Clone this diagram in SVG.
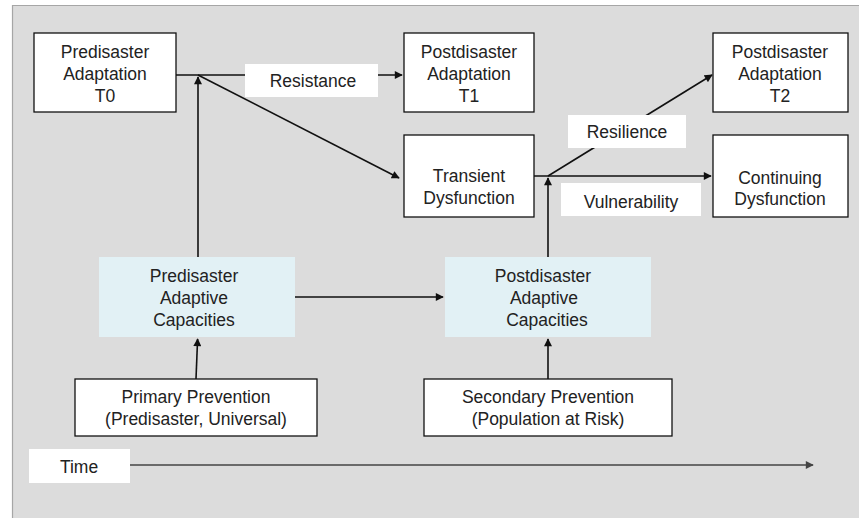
<svg xmlns="http://www.w3.org/2000/svg" width="859" height="518" viewBox="0 0 859 518">
<style>
text{font-family:"Liberation Sans",Arial,Helvetica,sans-serif;font-size:17.5px;fill:#222;text-anchor:middle}
.box{fill:#fff;stroke:#111;stroke-width:1.3}
.cap{fill:#e2f1f5;stroke:none}
.lbl{fill:#fff;stroke:none}
.ln{fill:none;stroke:#111;stroke-width:1.6}
.time{fill:none;stroke:#444;stroke-width:1.6}
</style>
<defs>
<marker id="ah" viewBox="0 0 10 10" refX="9" refY="5" markerWidth="9" markerHeight="8" markerUnits="userSpaceOnUse" orient="auto">
<path d="M0,0 L10,5 L0,10 z" fill="#111"/>
</marker>
<marker id="ahg" viewBox="0 0 10 10" refX="9" refY="5" markerWidth="9" markerHeight="8" markerUnits="userSpaceOnUse" orient="auto">
<path d="M0,0 L10,5 L0,10 z" fill="#444"/>
</marker>
</defs>
<rect x="0" y="0" width="859" height="518" fill="#fff"/>
<rect x="12" y="5" width="847" height="513" fill="#dcdcdc"/>
<path d="M12.5,518 V5.5 H859" fill="none" stroke="#a6a6a6" stroke-width="1.2"/>

<g id="connectors">
<path class="ln" d="M176,75 H402" marker-end="url(#ah)"/>
<path class="ln" d="M198,257 V77" marker-end="url(#ah)"/>
<path class="ln" d="M198,75 L399,178" marker-end="url(#ah)"/>
<path class="ln" d="M534,176 H711" marker-end="url(#ah)"/>
<path class="ln" d="M548,176 L712,75" marker-end="url(#ah)"/>
<path class="ln" d="M548,257 V178" marker-end="url(#ah)"/>
<path class="ln" d="M295,297 H443" marker-end="url(#ah)"/>
<path class="ln" d="M196,379 L197.6,339" marker-end="url(#ah)"/>
<path class="ln" d="M548,379 V339" marker-end="url(#ah)"/>
<path class="time" d="M130,465 H813" marker-end="url(#ahg)"/>
</g>

<g id="label-resistance">
<rect class="lbl" x="245" y="64" width="133" height="33"/>
<text x="313" y="87">Resistance</text>
</g>
<g id="label-resilience">
<rect class="lbl" x="568" y="115" width="118" height="33"/>
<text x="627" y="138">Resilience</text>
</g>
<g id="label-vulnerability">
<rect class="lbl" x="561" y="183" width="140" height="33"/>
<text x="631" y="208">Vulnerability</text>
</g>
<g id="label-time">
<rect class="lbl" x="29" y="449" width="101" height="34"/>
<text x="79" y="473">Time</text>
</g>

<g id="predisaster-t0">
<rect class="box" x="34" y="33" width="142" height="79"/>
<text x="105" y="58">Predisaster</text>
<text x="105" y="80">Adaptation</text>
<text x="105" y="102">T0</text>
</g>
<g id="postdisaster-t1">
<rect class="box" x="404" y="33" width="130" height="79"/>
<text x="469" y="58">Postdisaster</text>
<text x="469" y="80">Adaptation</text>
<text x="469" y="102">T1</text>
</g>
<g id="postdisaster-t2">
<rect class="box" x="713" y="33" width="135" height="79"/>
<text x="780" y="58">Postdisaster</text>
<text x="780" y="80">Adaptation</text>
<text x="780" y="102">T2</text>
</g>
<g id="transient-dysfunction">
<rect class="box" x="404" y="135" width="130" height="82"/>
<text x="469" y="182">Transient</text>
<text x="469" y="204">Dysfunction</text>
</g>
<g id="continuing-dysfunction">
<rect class="box" x="713" y="135" width="135" height="82"/>
<text x="780" y="184">Continuing</text>
<text x="780" y="205">Dysfunction</text>
</g>
<g id="predisaster-capacities">
<rect class="cap" x="99" y="257" width="196" height="80"/>
<text x="194" y="282">Predisaster</text>
<text x="194" y="304">Adaptive</text>
<text x="194" y="326">Capacities</text>
</g>
<g id="postdisaster-capacities">
<rect class="cap" x="445" y="257" width="206" height="80"/>
<text x="543" y="282">Postdisaster</text>
<text x="544" y="304">Adaptive</text>
<text x="547" y="326">Capacities</text>
</g>
<g id="primary-prevention">
<rect class="box" x="75" y="379" width="242" height="57"/>
<text x="196" y="403">Primary Prevention</text>
<text x="196" y="425">(Predisaster, Universal)</text>
</g>
<g id="secondary-prevention">
<rect class="box" x="424" y="379" width="248" height="57"/>
<text x="548" y="403">Secondary Prevention</text>
<text x="548" y="425">(Population at Risk)</text>
</g>
</svg>
